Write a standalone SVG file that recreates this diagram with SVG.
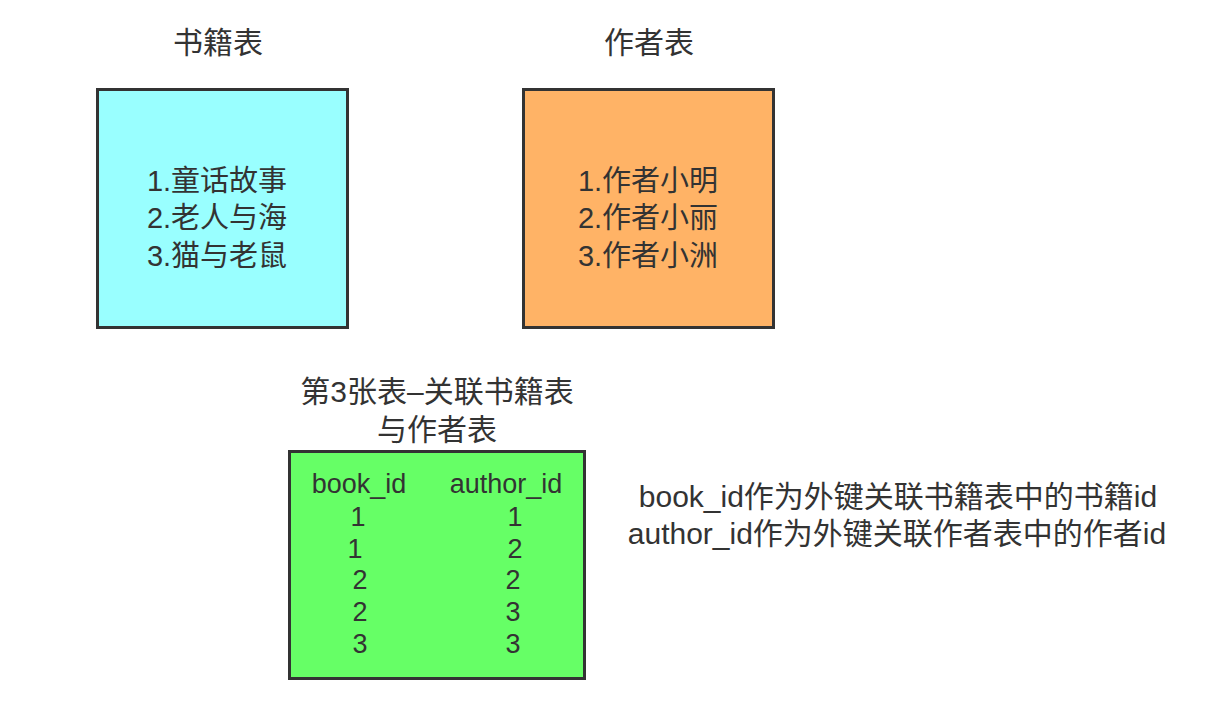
<svg xmlns="http://www.w3.org/2000/svg" width="1220" height="710" viewBox="0 0 1220 710">
<style>
text{font-family:"Liberation Sans","Noto Sans CJK SC",sans-serif;fill:#333;text-anchor:middle}
.h{font-size:30px}
.t{font-size:29px}
.s{font-size:27px}
.box{stroke:#333;stroke-width:3}
</style>
<rect width="1220" height="710" fill="#fff"/>
<g id="books">
<text class="h" x="218" y="53">书籍表</text>
<rect class="box" x="97.5" y="89.5" width="250" height="238" fill="#99FFFF"/>
<text class="t" x="217" y="191">1.童话故事</text>
<text class="t" x="217" y="228">2.老人与海</text>
<text class="t" x="217" y="266">3.猫与老鼠</text>
</g>
<g id="authors">
<text class="h" x="649" y="53">作者表</text>
<rect class="box" x="523.5" y="89.5" width="250" height="238" fill="#FFB366"/>
<text class="t" x="648" y="191">1.作者小明</text>
<text class="t" x="648" y="228">2.作者小丽</text>
<text class="t" x="648" y="266">3.作者小洲</text>
</g>
<g id="link">
<text class="h" x="437" y="402">第3张表–关联书籍表</text>
<text class="h" x="437" y="440">与作者表</text>
<rect class="box" x="289.5" y="451.5" width="295" height="227" fill="#66FF66"/>
<text class="s" x="359" y="493">book_id</text>
<text class="s" x="506" y="493">author_id</text>
<text class="s" x="358" y="526">1</text><text class="s" x="515" y="526">1</text>
<text class="s" x="355" y="558">1</text><text class="s" x="515" y="558">2</text>
<text class="s" x="360" y="589">2</text><text class="s" x="513" y="589">2</text>
<text class="s" x="360" y="621">2</text><text class="s" x="513" y="621">3</text>
<text class="s" x="360" y="653">3</text><text class="s" x="513" y="653">3</text>
</g>
<g id="note">
<text class="h" x="898" y="507">book_id作为外键关联书籍表中的书籍id</text>
<text class="h" x="897" y="544">author_id作为外键关联作者表中的作者id</text>
</g>
<g id="connectors"/>
</svg>
